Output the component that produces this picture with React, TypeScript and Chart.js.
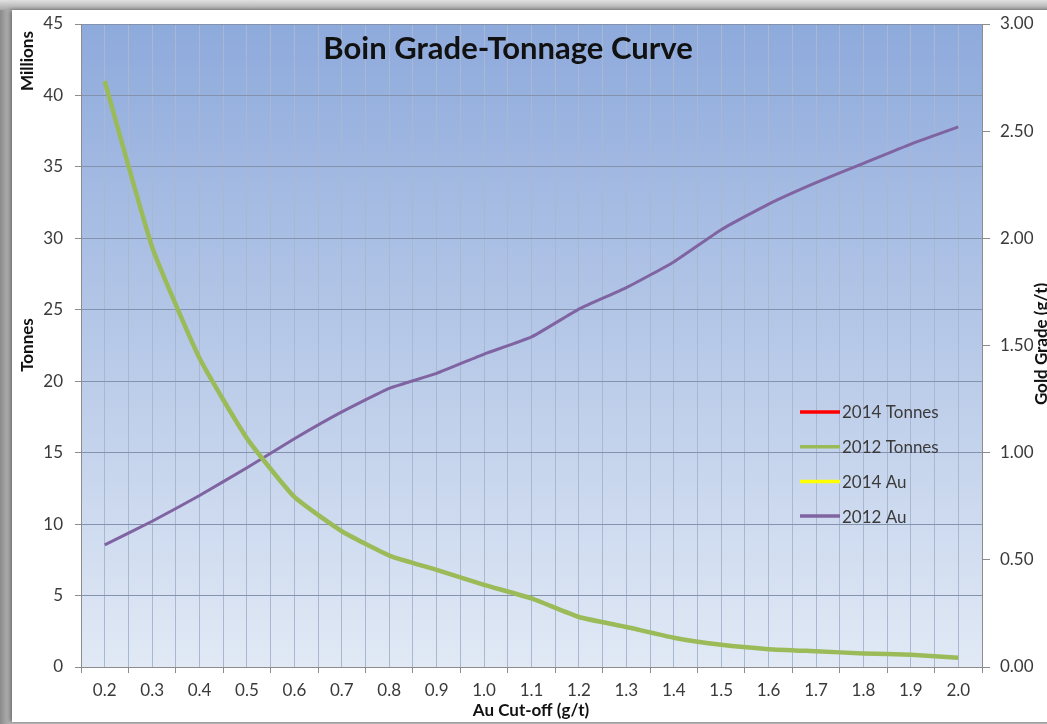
import React, { useEffect, useRef } from 'react';
import { Chart, registerables } from 'chart.js';

Chart.register(...registerables);

// Au cut-off grades (g/t)
const cutoffs = ['0.2', '0.3', '0.4', '0.5', '0.6', '0.7', '0.8', '0.9', '1.0', '1.1', '1.2', '1.3', '1.4', '1.5', '1.6', '1.7', '1.8', '1.9', '2.0'];

// Tonnes (millions) — left axis
const tonnes2014: (number | null)[] = [];
const tonnes2012 = [41.0, 29.4, 21.6, 16.0, 11.9, 9.5, 7.8, 6.8, 5.75, 4.8, 3.5, 2.8, 2.05, 1.55, 1.25, 1.1, 0.95, 0.85, 0.65];

// Gold grade (g/t) — right axis
const au2014: (number | null)[] = [];
const au2012 = [0.57, 0.68, 0.8, 0.93, 1.065, 1.19, 1.3, 1.37, 1.46, 1.54, 1.67, 1.77, 1.89, 2.04, 2.16, 2.26, 2.35, 2.44, 2.52];

const leftTicks = [0, 5, 10, 15, 20, 25, 30, 35, 40, 45];
const rightTicks = [0, 0.5, 1, 1.5, 2, 2.5, 3];

const FONT = 'Lato, "Open Sans", "DejaVu Sans", sans-serif';
const TEXT = '#3a3a3a';

export default function App() {
  const ref = useRef<HTMLCanvasElement>(null);

  useEffect(() => {
    if (!ref.current) return;

    const bgPlugin = {
      id: 'plotBg',
      beforeDraw(chart: any) {
        const { ctx, chartArea: a } = chart;
        const g = ctx.createLinearGradient(0, a.top, 0, a.bottom);
        g.addColorStop(0, '#8eaadc');
        g.addColorStop(0.5, '#b7c9e8');
        g.addColorStop(1, '#e1e9f5');
        ctx.save();
        ctx.fillStyle = g;
        ctx.fillRect(a.left, a.top, a.right - a.left, a.bottom - a.top);
        ctx.restore();
      },
    };

    const textPlugin = {
      id: 'texts',
      afterDraw(chart: any) {
        const { ctx, chartArea: a } = chart;
        ctx.save();
        ctx.fillStyle = '#111';
        ctx.textAlign = 'center';
        ctx.textBaseline = 'middle';
        // Title inside plot area
        ctx.font = `bold 31px ${FONT}`;
        ctx.fillText('Boin Grade-Tonnage Curve', 508, a.top + 25);
        // X axis title
        ctx.font = `bold 17px ${FONT}`;
        ctx.fillText('Au Cut-off (g/t)', 531, 711);
        // Rotated axis titles
        ctx.font = `bold 17px ${FONT}`;
        ctx.save();
        ctx.translate(28, 61);
        ctx.rotate(-Math.PI / 2);
        ctx.fillText('Millions', 0, 0);
        ctx.restore();
        ctx.save();
        ctx.translate(28, 345);
        ctx.rotate(-Math.PI / 2);
        ctx.fillText('Tonnes', 0, 0);
        ctx.restore();
        ctx.save();
        ctx.translate(1042, 344);
        ctx.rotate(-Math.PI / 2);
        ctx.fillText('Gold Grade (g/t)', 0, 0);
        ctx.restore();

        // Legend inside plot area
        const ds = chart.data.datasets;
        ctx.font = `17px ${FONT}`;
        ctx.textAlign = 'left';
        ds.forEach((d: any, i: number) => {
          const y = 412 + i * 34.7;
          ctx.strokeStyle = d.borderColor;
          ctx.lineWidth = 3.5;
          ctx.beginPath();
          ctx.moveTo(800, y);
          ctx.lineTo(840, y);
          ctx.stroke();
          ctx.fillStyle = TEXT;
          ctx.fillText(d.label, 842, y + 1);
        });
        ctx.restore();
      },
    };

    const chart = new Chart(ref.current, {
      type: 'line',
      data: {
        labels: cutoffs,
        datasets: [
          { label: '2014 Tonnes', data: tonnes2014, borderColor: '#ff0000', borderWidth: 4, pointRadius: 0, yAxisID: 'y', xAxisID: 'x', tension: 0.15 },
          { label: '2012 Tonnes', data: tonnes2012, borderColor: '#9bbb59', borderWidth: 4.5, pointRadius: 0, yAxisID: 'y', xAxisID: 'x', tension: 0.15 },
          { label: '2014 Au', data: au2014, borderColor: '#ffff00', borderWidth: 3, pointRadius: 0, yAxisID: 'y1', xAxisID: 'x', tension: 0.15 },
          { label: '2012 Au', data: au2012, borderColor: '#8064a2', borderWidth: 3, pointRadius: 0, yAxisID: 'y1', xAxisID: 'x', tension: 0.15 },
        ],
      },
      options: {
        animation: false,
        responsive: false,
        maintainAspectRatio: false,
        layout: { padding: { top: 24, left: 0, right: 0, bottom: 0 } },
        plugins: { legend: { display: false }, title: { display: false }, tooltip: { enabled: false } },
        scales: {
          x: {
            type: 'category',
            position: 'bottom',
            offset: true,
            grid: { offset: true, color: '#a8b8d1', tickColor: '#8c8c8c', tickLength: 6, lineWidth: 1 },
            border: { color: '#8c8c8c' },
            ticks: { font: { family: FONT, size: 17 }, color: TEXT, padding: 7, maxRotation: 0, autoSkip: false },
            afterFit(s: any) { s.height = 57; },
          },
          x2: {
            type: 'category',
            position: 'bottom',
            offset: true,
            grid: { offset: false, color: '#a8b8d1', drawTicks: false, lineWidth: 1 },
            border: { display: false },
            ticks: { display: false },
            afterFit(s: any) { s.height = 0; },
          },
          y: {
            position: 'left',
            min: 0,
            max: 45,
            afterBuildTicks(s: any) { s.ticks = leftTicks.map((v) => ({ value: v })); },
            ticks: { font: { family: FONT, size: 17 }, color: TEXT, padding: 12 },
            grid: { color: '#8393ad', tickColor: '#8c8c8c', tickLength: 6 },
            border: { color: '#8c8c8c' },
            afterFit(s: any) { s.width = 81; },
          },
          y1: {
            position: 'right',
            min: 0,
            max: 3,
            afterBuildTicks(s: any) { s.ticks = rightTicks.map((v) => ({ value: v })); },
            ticks: { font: { family: FONT, size: 17 }, color: TEXT, padding: 10, callback: (v: any) => Number(v).toFixed(2) },
            grid: { drawOnChartArea: false, tickColor: '#8c8c8c', tickLength: 8 },
            border: { color: '#8c8c8c' },
            afterFit(s: any) { s.width = 65; },
          },
        },
      },
      plugins: [bgPlugin, textPlugin],
    });

    return () => chart.destroy();
  }, []);

  return (
    <div style={{ position: 'fixed', left: 0, top: 0, width: 1047, height: 724, background: 'linear-gradient(90deg, #8a8a8a 0px, #c4c4c4 12px)', overflow: 'hidden' }}>
      <div style={{ position: 'absolute', left: 0, top: 0, width: 1047, height: 10, background: 'linear-gradient(180deg, #e0e0e0, #a8a8a8)' }} />
      <div style={{ position: 'absolute', left: 12, top: 10, width: 1060, height: 712, background: '#ffffff', boxShadow: '-2px 0 4px rgba(0,0,0,0.45)' }} />
      <canvas ref={ref} width={1047} height={724} style={{ position: 'absolute', left: 0, top: 0, width: 1047, height: 724 }} />
    </div>
  );
}
